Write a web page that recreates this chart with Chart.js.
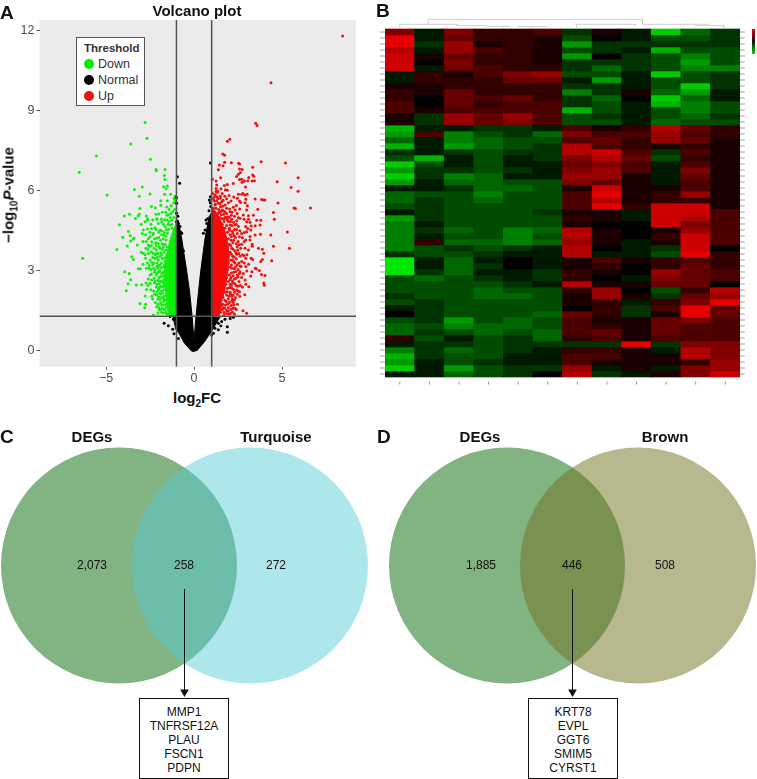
<!DOCTYPE html>
<html>
<head>
<meta charset="utf-8">
<script src="https://cdn.jsdelivr.net/npm/chart.js@4"></script>
<style>
  html, body { margin: 0; padding: 0; background: #fff; }
  body { position: relative; width: 757px; height: 779px; overflow: hidden; font-family: "Liberation Sans", Arial, sans-serif; color: #111; }
  canvas { position: absolute; }
  .t { position: absolute; white-space: nowrap; transform: translate(-50%, -50%); }
  .b { font-weight: bold; font-size: 15px; }
  .n { font-size: 12px; }
  .panel { font-weight: bold; font-size: 19px; transform: none; }
  sub { font-size: 10px; line-height: 0; }
  #legend { position: absolute; left: 76px; top: 37px; width: 67px; height: 67px; border: 1.5px solid #555; background: #fff; }
  #legend span { position: absolute; left: 21px; font-size: 12.5px; color: #333; line-height: 14px; }
  #legend i { position: absolute; left: 7px; width: 10px; height: 10px; border-radius: 50%; }
  .genes { position: absolute; top: 698px; width: 88px; height: 79px; border: 1px solid #111; background: #fff; text-align: center; font-size: 12px; line-height: 14px; padding-top: 0; }
  .genes div:first-child { margin-top: 6px; }
</style>
</head>
<body>
<canvas id="volcanoChart" width="370" height="385" style="left:0px;top:0px"></canvas>
<canvas id="heatmapChart" width="387" height="396" style="left:370px;top:5px;filter:blur(0.7px)"></canvas>
<canvas id="vennC" width="369" height="350" style="left:0px;top:430px"></canvas>
<canvas id="vennD" width="369" height="350" style="left:388px;top:430px"></canvas>

<div class="t panel" style="left:0;top:2px">A</div>
<div class="t panel" style="left:376px;top:0">B</div>
<div class="t panel" style="left:0;top:426px">C</div>
<div class="t panel" style="left:377px;top:426px">D</div>
<div class="t b" style="left:197px;top:10px">Volcano plot</div>
<div class="t b" style="left:197px;top:397px">log<sub>2</sub>FC</div>
<div class="t b" style="left:8px;top:195px;transform:translate(-50%,-50%) rotate(-90deg)">&#8722;log<sub>10</sub><i>P</i>-value</div>

<div id="legend">
  <b style="position:absolute;left:7px;top:4px;font-size:11.5px;color:#333">Threshold</b>
  <i style="top:21px;background:#00ee00"></i><span style="top:19px">Down</span>
  <i style="top:37px;background:#000"></i><span style="top:35px">Normal</span>
  <i style="top:53px;background:#f01010"></i><span style="top:51px">Up</span>
</div>

<div style="position:absolute;left:752px;top:29px;width:3px;height:25px;background:linear-gradient(#e00,#111 50%,#0d0)"></div>

<div class="t b" style="left:92px;top:436px">DEGs</div>
<div class="t b" style="left:276px;top:436px">Turquoise</div>
<div class="t b" style="left:480px;top:436px">DEGs</div>
<div class="t b" style="left:665px;top:436px">Brown</div>
<div class="t n" style="left:92px;top:565px">2,073</div>
<div class="t n" style="left:184px;top:565px">258</div>
<div class="t n" style="left:276px;top:565px">272</div>
<div class="t n" style="left:481px;top:565px">1,885</div>
<div class="t n" style="left:572px;top:565px">446</div>
<div class="t n" style="left:665px;top:565px">508</div>
<div class="genes" style="left:139px"><div>MMP1</div><div>TNFRSF12A</div><div>PLAU</div><div>FSCN1</div><div>PDPN</div></div>
<div class="genes" style="left:528px"><div>KRT78</div><div>EVPL</div><div>GGT6</div><div>SMIM5</div><div>CYRST1</div></div>

<script>
Chart.defaults.font.family = '"Liberation Sans", Arial, sans-serif';
Chart.defaults.animation = false;

// Volcano plot, [log2FC, -log10P]
const xTicks = [-5, 0, 5];
const yTicks = [0, 3, 6, 9, 12];
const thresholdFC = [-1, 1];
const thresholdP = 1.3;

// outlines of the solid masses where the points overlap completely
const normalMass = [[0,-0.03],[-0.15,0],[-0.55,0.3],[-0.8,0.6],[-1.05,0.85],[-1.2,1.3],[-1,1.3],[-1,4.9],[-0.9,4.9],[-0.7,4.2],[-0.42,3],[-0.25,2.2],[-0.11,1.3],[0,0.4],[0.11,1.3],[0.25,2.2],[0.38,3],[0.62,4.2],[0.85,5],[1,5.2],[1,1.3],[1.5,1.3],[1.1,0.85],[0.6,0.35],[0.15,0]];
const upMass = [[1,1.3],[1.45,1.35],[1.55,1.8],[1.75,2.3],[1.9,2.9],[2,3.5],[1.9,4.1],[1.75,4.5],[1.5,4.9],[1.25,5.2],[1,5.4]];
const downMass = [[-1,1.3],[-1.45,1.35],[-1.55,1.8],[-1.65,2.3],[-1.7,2.8],[-1.65,3.3],[-1.5,3.8],[-1.35,4.2],[-1.2,4.5],[-1,4.8]];

const normalPoints = [[-1.7,1.04],[-1.46,0.94],[-1.36,1.29],[-1.17,1.19],[-1.21,0.81],[-1.14,0.64],[-0.98,0.85],[-0.89,0.47],[1.89,0.7],[1.89,0.91],[1.52,0.94],[1.38,0.79],[2.23,1.26],[2.05,1.22],[1.76,1.19],[1.57,1.1],[1.1,0.66],[1.38,1.04],[1.19,0.85],[1,0.6],[-0.95,6.53],[-0.82,6.28],[0.93,7.04],[-0.99,5.53],[-1,5.75],[0.93,5.78],[0.87,5.66],[0.95,5.41],[0.91,5.03],[-0.89,4.78],[-0.8,4.66],[-0.7,4.41],[0.72,4.78],[0.82,4.66],[0.63,4.53],[0.68,4.91],[0.53,4.41],[-0.8,4.28],[-0.99,5.16],[-1,4.84],[-0.92,5.05],[0.85,5.25],[0.92,5.55],[0.78,4.95],[-0.6,3.75],[-0.75,4.45]];

const upPoints = [[8.44,11.8],[4.37,10.05],[3.5,8.53],[3.58,8.45],[2.03,7.93],[1.89,7.86],[1.63,7.38],[1.74,7.33],[1.74,7.07],[1.44,6.97],[1.65,6.94],[1.38,6.79],[2.12,7.05],[2.54,7.03],[2.58,7],[3.81,7.09],[5.19,7.04],[3.33,6.88],[2.58,6.82],[2.73,6.8],[2.63,6.69],[2.52,6.62],[2.42,6.54],[3.33,6.59],[3.39,6.55],[5.91,6.49],[1.51,6.49],[1.04,6.43],[1.25,6.37],[2.58,6.42],[2.71,6.43],[2.86,6.37],[3.05,6.38],[3.11,6.5],[3.3,6.37],[3.43,6.38],[4.72,6.34],[2.73,6.32],[1.29,6.22],[1.72,6.2],[1.89,6.24],[2.23,6.27],[2.92,6.14],[5.51,6.12],[1.25,6.09],[1.53,6.08],[1.78,6.04],[1.89,6.02],[5.91,5.98],[1.25,5.97],[1.34,5.99],[2.52,5.87],[2.71,5.87],[2.78,5.9],[2.88,5.84],[3.01,5.87],[1.48,5.8],[1.99,5.82],[2.25,5.77],[2.46,5.72],[1.16,5.78],[3.47,5.69],[3.84,5.67],[3.94,5.66],[4.02,5.66],[2.94,5.68],[2.58,5.62],[2.65,5.56],[2.9,5.55],[4.77,5.54],[5.68,5.36],[5.76,5.34],[6.61,5.36],[3.62,5.31],[4.51,5.19],[3.03,5.44],[2.99,5.28],[2.59,5.32],[2.23,5.38],[1.95,5.55],[2.1,5.62],[1.76,5.47],[1.57,5.59],[1.38,5.53],[1.19,5.47],[4.56,4.93],[3.37,5.08],[3.09,5.07],[2.8,5.09],[2.52,4.99],[2.61,4.97],[2.84,4.93],[3.09,4.93],[3.56,4.9],[3.79,4.9],[2.99,4.84],[3.18,4.82],[3.47,4.69],[3.75,4.72],[3.24,4.68],[2.93,4.66],[3.05,4.59],[2.33,5.28],[2.05,5.22],[1.75,5.22],[1.61,5.28],[1.38,5.15],[1.82,5],[2.14,4.93],[2.33,4.72],[2.05,4.72],[2.52,4.66],[5.3,4.46],[5.42,3.85],[4.36,4.34],[4.51,3.92],[3.66,3.85],[3.88,3.81],[3.96,3.66],[4.41,3.38],[3.88,3.43],[3.79,3.35],[3.24,3.47],[3.33,3.43],[3.47,3.1],[3.54,3.08],[3.71,3.01],[3.28,2.97],[3.22,2.81],[3.83,2.86],[4.03,2.83],[3.96,2.55],[3.99,2.46],[3.77,4.37],[3.47,4.34],[3.18,4.29],[2.99,4.47],[2.86,4.44],[3.22,4.53],[3.3,4],[3.31,3.92],[3.09,3.78],[3.18,4.16],[2.94,4.16],[2.58,4.28],[2.75,4.24],[2.84,3.57],[2.94,3.47],[2.71,3.35],[2.67,3.16],[2.94,3.16],[2.61,2.97],[2.9,2.66],[3.11,2.41],[2.94,2.5],[2.88,2.11],[2.58,2.22],[2.48,2.26],[2.78,1.51],[2.99,1.41],[2.46,1.75],[2.29,1.91],[2.23,1.82],[2.14,1.87],
[2.2,4.4],[2.35,4.25],[2.5,4.1],[2.2,4.05],[2.45,3.9],[2.65,3.85],[2.3,3.75],[2.55,3.65],[2.75,3.6],[2.4,3.45],[2.25,3.35],[2.55,3.3],[2.35,3.15],[2.5,3.05],[2.25,2.95],[2.45,2.85],[2.7,2.75],[2.3,2.7],[2.55,2.6],[2.2,2.55],[2.4,2.45],[2.15,2.35],[2.3,2.2],[2.05,2.2],[2.15,2.05],[2.35,2],[1.95,1.95],[2.1,1.7],[1.9,1.75],[1.75,1.6],[1.95,1.5],[1.7,1.45],[2.05,1.4],[2.3,1.38],[2,4.6],[2.15,4.7],[2.3,4.55],[1.95,4.85],[1.75,5],[1.55,5.1],[1.4,5.3],[1.2,5.5],[1.1,5.7],[1.05,5.9],[1.2,5.85],[1.35,5.7],[1.5,5.4],[1.65,5.25],[1.85,5.15],[2,5],
[1.9,4.45],[2.05,4.35],[1.95,4.2],[2.1,4.15],[2,4],[1.9,3.9],[2.15,3.85],[2.05,3.7],[1.95,3.6],[2.2,3.55],[2.1,3.4],[1.95,3.3],[2.05,3.15],[2.15,3.1],[1.9,3.05],[2,2.85],[2.1,2.75],[1.85,2.75],[1.95,2.6],[2.05,2.5],[1.8,2.5],[1.9,2.35],[1.75,2.2],[1.85,2.1],[1.65,2],[1.75,1.9],[1.55,1.7],[1.6,1.55],[1.85,1.4],[1.5,1.45],[1.75,4.6],[1.85,4.7],[1.6,4.75],[1.7,4.85],[1.45,5],[1.3,5.1],[2.4,4.75],[2.6,4.5],[2.7,4.4],[2.45,4.4],[2.85,4.1],[2.7,4],[2.9,3.85],[3,3.6],[3.1,3.25],[2.85,3.3],[3,3],[2.8,2.9],[2.75,2.4],[2.6,2.05],[2.4,1.55],[2.2,1.6],[1.85,2.95],[1.9,3.45],[1.9,3.75],
[2.02,4.52],[2.18,4.48],[2.28,4.32],[2.42,4.55],[2.12,4.28],[2.25,4.15],[2.4,4.02],[2.55,3.98],[2.08,3.95],[2.2,3.82],[2.38,3.68],[2.48,3.78],[2.62,3.55],[2.12,3.62],[2.28,3.52],[2.42,3.62],[2.18,3.42],[2.32,3.3],[2.45,3.22],[2.62,3.18],[2.12,3.22],[2.28,3.08],[2.38,2.98],[2.58,2.9],[2.12,2.92],[2.22,2.82],[2.38,2.72],[2.5,2.78],[2.05,2.68],[2.18,2.62],[2.32,2.52],[2.48,2.42],[2.62,2.45],[2.02,2.38],[2.12,2.45],[2.25,2.3],[2.42,2.28],[2.08,2.12],[2.22,2.1],[2.45,2.12],[1.98,2.05],[1.88,2.22],[2,1.82],[2.18,1.95],[1.82,1.85],[2.25,1.72],[1.95,1.62],[2.1,1.55],[2.32,1.6],[1.78,1.72],[1.65,1.62],[1.62,1.75],[1.7,1.35],[1.85,1.52],[2.18,1.45],[1.95,1.38],
[1.25,5.35],[1.42,5.2],[1.58,4.95],[1.72,4.95],[1.88,4.92],[2.08,4.85],[2.25,4.82],[2.42,4.88],[1.52,5.22],[1.68,5.12],[1.92,5.02],[2.12,5.08],[2.3,5.05],[1.28,5.62],[1.48,5.52],[1.62,5.42],[1.85,5.35],[2.02,5.32],[2.15,5.2],[2.45,5.15],[1.15,5.62],[1.3,5.78],[1.5,5.72],[1.65,5.65],[1.85,5.7],[1.1,5.35],[1.32,5.95],[1.6,5.9],[1.75,5.8],[2.4,5.45]];

const downPoints = [[-6.52,6.7],[-6.33,3.47],[-5.55,7.3],[-4.94,5.84],[-3.6,7.75],[-2.78,8.56],[-2.67,7.97],[-2.48,7.18],[-2.16,6.8],[-2.14,6.75],[-1.65,6.8],[-1.69,6.57],[-1.65,6.42],[-1.52,6.18],[-1.73,6.15],[-1.59,6.09],[-2.94,6.14],[-3.39,6.05],[-3.11,5.8],[-2.5,5.88],[-1.67,5.87],[-1.33,5.87],[-1.08,5.81],[-1.14,5.72],[-1.04,5.68],[-1.89,5.63],[-1.52,5.63],[-2.42,5.41],[-2.2,5.37],[-1.89,5.46],[-1.55,5.39],[-1.42,5.3],[-1.21,5.22],[-3.07,5.34],[-3.96,5.06],[-3.66,5.12],[-3.11,5.12],[-3.18,5.06],[-3.33,4.96],[-2.71,5.06],[-2.16,5.12],[-2.01,5.13],[-1.55,5.08],[-1.46,5.1],[-1.36,5],[-1.86,4.94],[-2.1,4.94],[-2.63,4.94],[-4.24,4.73],[-3.73,4.48],[-4.05,4.26],[-3.62,4.32],[-3.41,4.22],[-3.45,4.19],[-3.6,4.12],[-3.79,3.93],[-3.22,3.97],[-4.38,3.8],[-3.54,3.53],[-3.45,3.43],[-2.88,3.66],[-2.78,3.6],[-2.73,3.85],[-2.6,3.97],[-2.75,3.47],[-3.17,3.08],[-3.05,3.08],[-2.54,3.1],[-3.94,2.97],[-3.68,2.9],[-3.6,2.67],[-3.75,2.52],[-3.85,2.26],[-3.28,2.47],[-2.97,2.48],[-2.73,2.55],[-2.63,2.45],[-2.41,2.66],[-2.27,2.72],[-2.5,2.53],[-2.46,2.29],[-2.71,2.3],[-2.78,2.06],[-3.07,1.78],[-2.75,1.75],[-2.8,1.62],[-2.31,1.35],[-2.12,2.1],[-2.03,2.29],[-1.97,2.53],[-2.2,1.82],[-2.12,1.66],[-1.97,1.54],[-1.84,1.72],[-1.93,1.91],[-2.88,4.53],[-2.65,4.57],[-2.5,4.28],[-2.41,4.59],[-2.22,4.62],[-2.31,4.41],[-2.12,4.22],[-2.41,4.09],[-2.54,3.91],[-2.27,3.85],[-2.03,4.03],[-1.84,4.35],[-1.93,4.53],[-2.03,4.78],[-1.84,4.84],[-1.65,4.66],[-1.55,4.91],[-1.36,4.72],[-2.12,4.94],[-2.35,4.91],[-2.65,4.91],[-2.78,4.84],[-2.5,3.41],[-2.22,3.47],[-2.31,3.66],[-2.12,3.66],[-2.03,3.41],[-2.35,3.22],[-2.12,3.16],[-1.93,3.85],[-1.93,3.22],[-2.22,3.03],[-2.01,2.97],[-1.84,3.6],[-1.84,2.91],[-1.74,3.97],[-1.74,2.66],[-1.78,2.41],[-1.78,2.16],[-1.74,1.85],[-1.71,1.54],[-1.59,4.16],[-1.52,4.41],
[-1.45,4.55],[-1.25,4.6],[-1.7,4.45],[-1.6,4.3],[-1.75,4.2],[-1.9,4.15],[-1.65,4],[-1.55,3.9],[-1.8,3.8],[-1.7,3.7],[-1.55,3.6],[-1.95,3.55],[-1.75,3.45],[-1.65,3.35],[-1.85,3.3],[-1.75,3.15],[-2.05,3.1],[-1.95,3],[-1.75,2.95],[-2.15,2.85],[-1.9,2.8],[-2.05,2.65],[-1.85,2.6],[-1.95,2.4],[-1.7,2.45],[-2.15,2.4],[-1.85,2.25],[-1.95,2.15],[-1.7,2.05],[-1.85,2],[-2.05,1.95],[-1.65,1.9],[-1.8,1.6],[-1.6,1.65],[-1.85,1.45],[-1.6,1.45],[-2.35,1.95],[-2.4,2.05],[-2.3,2.25],[-2.25,2.95],[-2.45,3.05],[-2.35,3.5],[-2.6,3.65],[-2.15,3.95],[-2.25,4.2],[-2.6,4.2],[-2.75,4.35],[-2.45,4.75],[-1.75,4.75],[-1.25,4.9],[-1.15,5],[-1.1,5.3],[-1.3,5.45],[-1.6,5.2],[-1.8,5.2],[-1.15,5.55],[-1.03,5.55],[-1.08,5.65],
[-1.72,4.35],[-1.85,4.5],[-2,4.45],[-2.15,4.55],[-1.58,4.55],[-1.42,4.85],[-1.68,4.92],[-2,4.25],[-2.18,4.05],[-1.82,4.02],[-1.98,3.9],[-2.15,3.78],[-1.75,3.88],[-1.6,3.78],[-1.88,3.68],[-2.05,3.65],[-2.2,3.6],[-2.42,3.72],[-1.62,3.5],[-1.82,3.48],[-2.1,3.5],[-2.28,3.3],[-1.68,3.22],[-1.88,3.12],[-2.1,3.3],[-2,3.2],[-2.3,3.1],[-2.42,2.88],[-2.1,2.92],[-1.85,2.78],[-1.72,2.82],[-2,2.75],[-2.2,2.62],[-1.95,2.62],[-1.75,2.55],[-2.1,2.5],[-1.88,2.42],[-2.25,2.55],[-2,2.35],[-1.72,2.28],[-1.9,2.12],[-2.1,2.22],[-2,2.02],[-2.25,2.12],[-1.72,1.95],[-1.9,1.8],[-2.05,1.75],[-1.6,1.75],[-1.75,1.72],[-2,1.62],[-1.65,1.55],[-1.9,1.55],[-1.75,1.42],[-1.55,1.38],[-2.05,1.42],[-1.32,5.15],[-1.25,4.75],[-1.48,4.75],[-2.35,4.35],[-2.5,4.45],[-2.42,3.95],[-2.62,3.8],[-2.72,4.1],[-2.9,4.1],[-2.55,3.2],[-2.65,3.3],[-2.4,3.32],[-2.7,3.1],[-2.6,2.7],[-2.5,2.85],[-2.9,3.25],[-3,3.7],[-2.95,4.4],[-3,4.75]];

// Heatmap, expression per gene block (rows) and sample (columns), red up, green down
const sampleLabels = ['S1','S2','S3','S4','S5','S6','S7','S8','S9','S10','S11','S12'];
const heatRows = [
  [5,-1,5,2,2,3,-2,1,-1,-8,-4,-2],[9,-1,4,2,2,1,-3,0,-1,-3,-3,-2],[9,-2,6,1,2,1,-6,-2,-2,-2,-2,-2],[7,-1,6,3,2,1,-3,-2,-1,-7,-3,-3],
  [8,1,4,2,2,1,-6,0,-2,-3,-5,-3],[8,0,5,2,2,1,-2,-2,-2,-3,-6,-3],[8,-1,4,3,2,2,-2,-4,-2,-3,-5,-5],[-1,2,1,3,5,6,-3,-3,-1,-8,-3,-2],
  [-1,2,2,2,4,4,-1,-6,-1,-3,-3,-2],[1,1,2,2,2,2,-2,-2,-1,-3,-8,-2],[2,1,4,2,2,2,-5,-2,1,-4,-6,-1],[2,0,4,3,4,2,-2,-4,0,-8,-4,-1],
  [3,0,4,2,3,3,-2,-3,-1,-7,-5,-3],[3,1,3,3,3,3,-7,-3,-1,-3,-5,-3],[1,-2,6,4,6,3,-3,-2,-1,-3,-4,-2],[1,-2,6,4,5,3,-3,-3,-1,-4,-3,-3],
  [-7,-1,-1,-2,-2,-1,3,1,2,7,4,2],[-6,3,-5,-3,-2,-4,5,3,3,6,3,2],[-4,-1,-5,-4,-3,-3,3,4,2,6,4,1],[-7,-1,-6,-4,-3,-2,7,3,2,1,2,1],
  [-2,-1,-2,-3,-2,-2,7,8,3,-2,3,1],[-3,-7,-1,-3,-1,-2,5,7,4,-3,2,1],[-8,-3,-1,-3,-1,-1,4,5,3,-1,3,1],[-6,-2,-2,-3,-2,-1,5,6,3,-1,5,1],
  [-8,-2,-5,-4,-1,-1,6,6,1,-1,4,1],[-6,-1,-4,-4,-3,-3,5,4,1,-1,3,1],[-1,-1,-2,-4,-4,-3,1,8,1,1,3,1],[-4,-3,-3,-5,-3,-3,3,9,1,2,6,1],
  [-4,-2,-3,-4,-3,-3,3,7,1,2,2,1],[-3,-2,-3,-3,-3,-3,3,9,2,8,8,1],[-1,-2,-3,-3,-3,-2,1,1,-1,8,8,3],[-6,-2,-3,-3,-3,-3,2,1,-1,8,7,3],
  [-5,-1,-3,-3,-3,-3,1,0,0,8,5,3],[-5,-2,-4,-3,-5,-4,7,1,0,1,6,3],[-5,-1,-3,-3,-5,-3,7,1,0,2,8,3],[-5,2,-4,-4,-5,-4,6,1,-1,1,8,3],
  [-5,-3,-2,-3,-2,-1,7,0,-1,-2,8,0],[-2,-3,-3,-2,-1,-1,7,-1,-1,-3,9,2],[-9,-1,-4,-1,0,-1,1,3,1,2,3,2],[-9,-1,-4,-2,0,-1,1,2,0,2,4,2],
  [-9,-2,-4,-1,-1,-2,2,1,0,6,4,3],[-3,-4,-3,-2,-1,-2,2,0,-1,5,4,3],[-3,-3,-3,-3,-2,-1,7,1,1,4,4,0],[-3,-3,-3,-4,-3,-3,2,6,0,-3,2,7],
  [-2,-3,-3,-4,-4,-3,1,6,1,-2,4,6],[-3,-2,-3,-3,-3,-3,1,2,-1,2,5,9],[-1,-2,-3,-3,-3,-3,0,2,-2,3,9,4],[0,-2,-3,-3,-3,-4,4,2,-2,1,9,4],
  [-3,-2,-6,-3,-4,-3,3,1,1,4,5,3],[-4,-3,-5,-4,-4,-3,3,2,1,4,3,3],[-4,-2,-3,-4,-3,-4,3,4,1,4,3,3],[2,-3,-1,-3,-2,-4,2,3,1,3,3,3],
  [-1,-2,-2,-3,-2,-2,-2,-2,9,-2,5,5],[-5,-2,-4,-3,-2,-1,2,2,1,-1,7,5],[-7,-2,-3,-3,-1,-1,3,3,1,1,7,5],[-6,-1,-3,-2,-1,-1,3,1,1,1,2,6],
  [-8,-1,-6,-3,-2,-2,6,-1,1,-1,5,6],[-1,-1,-4,-3,-2,0,7,-2,-1,1,5,8]
];

// sample dendrogram above the heatmap, in column and row units, null breaks the line
const dendroX = [0.96,0.96,8.2,8.2,null,0,0,0.96,1.94,1.94,null,1.94,2.9,null,2.9,3.74,null,3.98,4.98,null,5.97,5.97,7.96,7.96,null,8.2,8.95,10.46,null,9.97,10.95,10.95];
const dendroY = [-0.78,-1.61,-1.61,-0.78,null,0,-0.78,-0.78,-0.78,-0.56,null,-0.56,-0.56,null,-0.45,-0.45,null,-0.39,-0.39,null,0,-0.78,-0.78,-0.56,null,-0.78,-0.78,-0.78,null,-0.56,-0.56,0];

// Creating Volcano Chart
function pointSet(points, color) {
  return { type: 'scatter', data: points, backgroundColor: color, borderWidth: 0, pointRadius: 1.5 };
}
function massSet(points, color) {
  return { type: 'scatter', data: points, showLine: true, fill: 'shape', backgroundColor: color, borderColor: color, borderWidth: 1, pointRadius: 0 };
}
function ruleSet(points) {
  return { type: 'scatter', data: points, showLine: true, borderColor: '#555', borderWidth: 1.5, pointRadius: 0 };
}
const volcanoX = { min: -8.78, max: 9.2 };
const volcanoY = { min: -0.59, max: 12.4 };
new Chart(document.getElementById('volcanoChart'), {
  type: 'scatter',
  data: {
    datasets: [
      ruleSet([[thresholdFC[0], volcanoY.min], [thresholdFC[0], volcanoY.max]]),
      ruleSet([[thresholdFC[1], volcanoY.min], [thresholdFC[1], volcanoY.max]]),
      ruleSet([[volcanoX.min, thresholdP], [volcanoX.max, thresholdP]]),
      pointSet(normalPoints, '#000'),
      massSet(normalMass, '#000'),
      pointSet(upPoints, '#f01010'),
      massSet(upMass, '#f60a0a'),
      pointSet(downPoints, '#10ee10'),
      massSet(downMass, '#0cf00c')
    ]
  },
  options: {
    responsive: false,
    layout: { autoPadding: false, padding: { top: 20, right: 14, bottom: 0, left: 0 } },
    plugins: {
      legend: { display: false },
      tooltip: { enabled: false }
    },
    scales: {
      x: {
        min: volcanoX.min, max: volcanoX.max,
        afterBuildTicks: s => { s.ticks = xTicks.map(v => ({ value: v })); },
        afterFit: s => { s.height = 18.3; },
        grid: { drawOnChartArea: false, tickLength: 3, color: '#555' },
        border: { display: false },
        ticks: { color: '#4d4d4d', font: { size: 12.5 }, padding: 1, maxRotation: 0, callback: v => String(v).replace('-', '\u2212') }
      },
      y: {
        min: volcanoY.min, max: volcanoY.max,
        afterBuildTicks: s => { s.ticks = yTicks.map(v => ({ value: v })); },
        afterFit: s => { s.width = 39.5; },
        grid: { drawOnChartArea: false, tickLength: 3, color: '#555' },
        border: { display: false },
        ticks: { color: '#4d4d4d', font: { size: 12.5 }, padding: 2 }
      }
    }
  },
  plugins: [{
    id: 'panelBg',
    beforeDraw(chart) {
      const a = chart.chartArea;
      chart.ctx.fillStyle = '#ebebeb';
      chart.ctx.fillRect(a.left, a.top, a.width, a.height);
    }
  }]
});

// Creating Heatmap Chart
function heatColor(v) {
  const level = Math.round(Math.abs(v) * 25.5);
  return v > 0 ? `rgb(${level},0,0)` : `rgb(0,${level},0)`;
}
const rowSets = heatRows.map((row, r) => ({
  type: 'bar',
  data: sampleLabels.map(() => [r, r + 1]),
  backgroundColor: row.map(heatColor),
  grouped: false,
  barPercentage: 1,
  categoryPercentage: 1,
  xAxisID: 'x',
  yAxisID: 'y'
}));
new Chart(document.getElementById('heatmapChart'), {
  data: {
    labels: sampleLabels,
    datasets: [
      {
        type: 'scatter',
        data: dendroX.map((x, i) => ({ x: x, y: dendroY[i] })),
        showLine: true, spanGaps: false, clip: false,
        borderColor: '#c4c4c4', borderWidth: 0.8, pointRadius: 0,
        xAxisID: 'xd', yAxisID: 'y'
      },
      {
        // faint row labels either side, tick marks below
        type: 'scatter',
        data: heatRows.flatMap((row, r) => [{ x: -0.58, y: r + 0.5 }, { x: 11.58, y: r + 0.5 }]),
        clip: false, pointStyle: 'line', pointRadius: 2.5, borderColor: '#8a8a8a', borderWidth: 0.8,
        xAxisID: 'xd', yAxisID: 'y'
      },
      {
        type: 'scatter',
        data: sampleLabels.map((s, i) => ({ x: i, y: 59 })),
        clip: false, pointStyle: 'line', rotation: 90, pointRadius: 1.5, borderColor: '#777', borderWidth: 0.8,
        xAxisID: 'xd', yAxisID: 'y'
      }
    ].concat(rowSets)
  },
  options: {
    responsive: false,
    layout: { autoPadding: false, padding: { left: 15, right: 17, top: 0, bottom: 0 } },
    plugins: { legend: { display: false }, tooltip: { enabled: false } },
    scales: {
      x: { display: false, offset: true },
      xd: { type: 'linear', display: false, min: -0.5, max: 11.5 },
      y: { display: false, reverse: true, min: -4, max: 62 }
    }
  }
});

// Creating Venn Charts, two circles and the arrow down to the gene box
function makeVenn(id, leftColor, rightColor) {
  return new Chart(document.getElementById(id), {
    type: 'scatter',
    data: {
      datasets: [
        { data: [[0, 589], [0, 694]], showLine: true, borderColor: '#111', borderWidth: 1, pointRadius: 0, order: 0 },
        { data: [[0, 692]], pointStyle: 'triangle', rotation: 180, pointRadius: 5, backgroundColor: '#111', borderWidth: 0, order: 0 },
        { data: [[1, 565.5]], pointRadius: 118, backgroundColor: rightColor, borderWidth: 0, order: 1, clip: false },
        { data: [[-1, 565.5]], pointRadius: 118, backgroundColor: leftColor, borderWidth: 0, order: 2, clip: false }
      ]
    },
    options: {
      responsive: false,
      layout: { autoPadding: false, padding: 0 },
      plugins: { legend: { display: false }, tooltip: { enabled: false } },
      scales: {
        x: { display: false, min: -2.817, max: 2.817 },
        y: { display: false, reverse: true, min: 430, max: 780 }
      }
    }
  });
}
makeVenn('vennC', '#82b383', 'rgba(84,203,213,0.48)');
makeVenn('vennD', '#82b383', 'rgba(113,113,31,0.5)');
</script>
</body>
</html>
